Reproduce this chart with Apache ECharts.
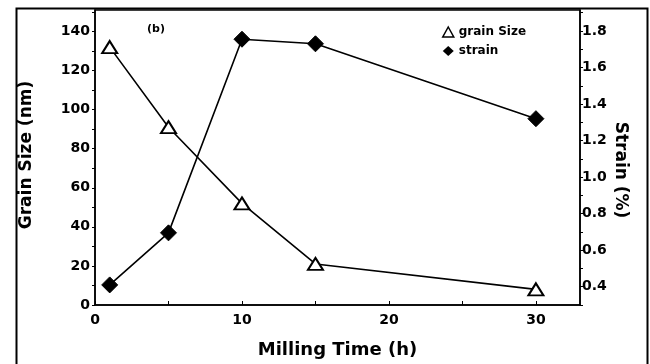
<!DOCTYPE html>
<html>
<head>
<meta charset="utf-8">
<script src="https://cdn.jsdelivr.net/npm/echarts@6/dist/echarts.min.js"></script>
<style>html,body{margin:0;padding:0;background:#fff}#c{width:650px;height:364px}</style>
</head>
<body>
<div id="c"></div>
<script>
const millingTime = [1, 5, 10, 15, 30];
const grainSize = [132, 91, 52, 21, 8];
const strain = [0.41, 0.695, 1.755, 1.73, 1.32];
const xTicks = [0, 10, 20, 30];
const leftTicks = [0, 20, 40, 60, 80, 100, 120, 140];
const rightTicks = [0.4, 0.6, 0.8, 1.0, 1.2, 1.4, 1.6, 1.8];

const FONT = 'DejaVu Sans';
const minorX = []; for (let v = 0; v <= 30; v += 5) minorX.push(v);
const minorL = []; for (let v = 0; v <= 150; v += 10) minorL.push(v);
const minorR = []; for (let v = 0.3; v <= 1.91; v += 0.1) minorR.push(+v.toFixed(1));

const chart = echarts.init(document.getElementById('c'), null, {renderer: 'canvas'});
chart.setOption({
  animation: false,
  backgroundColor: '#fff',
  grid: {left: 95, right: 70, top: 10, bottom: 59, show: true, borderColor: '#000', borderWidth: 1.5, outerBoundsMode: 'none', containLabel: false},
  graphic: [
    {type: 'rect', left: 14, top: 6, shape: {x: 0, y: 0, width: 631, height: 400}, style: {fill: 'none', stroke: '#000', lineWidth: 2}, z: 100},
    {type: 'text', left: 147, top: 24, style: {text: '(b)', font: 'bold 11px "DejaVu Sans"', fill: '#000'}},
    {type: 'text', x: 620, y: 170, rotation: -Math.PI / 2, style: {text: 'Strain (%)', font: 'bold 17px "DejaVu Sans"', fill: '#000', align: 'center', verticalAlign: 'middle'}},
    {type: 'text', x: 27, y: 155, rotation: Math.PI / 2, style: {text: 'Grain Size (nm)', font: 'bold 17px "DejaVu Sans"', fill: '#000', align: 'center', verticalAlign: 'middle'}}
  ],
  legend: {
    orient: 'vertical', left: 437, top: 21, itemGap: 7, itemWidth: 11, itemHeight: 10,
    textStyle: {fontFamily: FONT, fontWeight: 'bold', fontSize: 12, color: '#000'},
    data: [
      {name: 'grain Size', icon: 'triangle', itemStyle: {color: '#fff', borderColor: '#000', borderWidth: 1.5}},
      {name: 'strain', icon: 'diamond', itemStyle: {color: '#000', borderColor: '#000'}}
    ]
  },
  xAxis: {
    type: 'value', min: 0, max: 33,
    name: 'Milling Time (h)', nameLocation: 'middle', nameGap: 36,
    nameTextStyle: {fontFamily: FONT, fontWeight: 'bold', fontSize: 18, color: '#000'},
    axisLine: {lineStyle: {color: '#000', width: 1.5}},
    axisTick: {inside: true, length: 4, customValues: minorX, lineStyle: {color: '#000'}},
    axisLabel: {customValues: xTicks, fontFamily: FONT, fontWeight: 'bold', fontSize: 14, color: '#000', margin: 8},
    splitLine: {show: false}
  },
  yAxis: [
    {
      type: 'value', min: 0, max: 151, position: 'left',
      axisLine: {show: true, lineStyle: {color: '#000', width: 1.5}},
      axisTick: {inside: false, length: 3, customValues: minorL, lineStyle: {color: '#000'}},
      axisLabel: {customValues: leftTicks, fontFamily: FONT, fontWeight: 'bold', fontSize: 14, color: '#000', margin: 5},
      splitLine: {show: false}
    },
    {
      type: 'value', min: 0.3, max: 1.915, position: 'right',
      axisLine: {show: true, lineStyle: {color: '#000', width: 1.5}},
      axisTick: {inside: false, length: 3, customValues: minorR, lineStyle: {color: '#000'}},
      axisLabel: {customValues: rightTicks, formatter: v => v.toFixed(1), fontFamily: FONT, fontWeight: 'bold', fontSize: 14, color: '#000', margin: 2},
      splitLine: {show: false}
    }
  ],
  series: [
    {
      name: 'grain Size', type: 'line', yAxisIndex: 0,
      data: millingTime.map((t, i) => [t, grainSize[i]]),
      symbol: 'triangle', symbolSize: [15, 12],
      itemStyle: {color: '#fff', borderColor: '#000', borderWidth: 2},
      lineStyle: {color: '#000', width: 1.6}, z: 3
    },
    {
      name: 'strain', type: 'line', yAxisIndex: 1,
      data: millingTime.map((t, i) => [t, strain[i]]),
      symbol: 'diamond', symbolSize: [16, 16],
      itemStyle: {color: '#000', borderColor: '#000'},
      lineStyle: {color: '#000', width: 1.6}, z: 2
    }
  ]
});
</script>
</body>
</html>
